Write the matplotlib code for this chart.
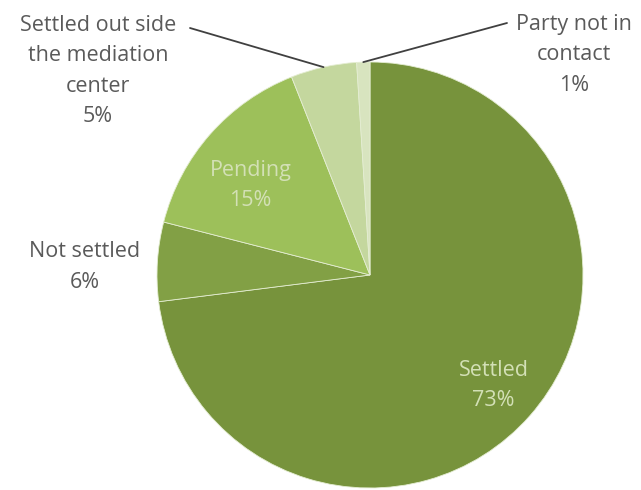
import matplotlib
matplotlib.use("Agg")
import matplotlib.pyplot as plt
import numpy as np

# case outcomes at the mediation center
categories = ["Settled", "Not settled", "Pending",
              "Settled out side\nthe mediation\ncenter", "Party not in\ncontact"]
shares = [73, 6, 15, 5, 1]
colors = ["#77933C", "#82A045", "#9DC05A", "#C4D79E", "#D8E4BF"]

W, H = 641, 490
plt.rcParams["font.family"] = ["Open Sans", "DejaVu Sans"]
FS = 15.5
GREY = "#5A5A5A"

fig = plt.figure(figsize=(W / 100, H / 100), dpi=100)

# pie centre and radius in pixels
cx, cy, rad = 370, 275, 213
ax = fig.add_axes([(cx - rad) / W, (H - cy - rad) / H, 2 * rad / W, 2 * rad / H])
wedges, _ = ax.pie(shares, colors=colors, startangle=90, counterclock=False,
                   wedgeprops=dict(edgecolor="#E4EDD2", linewidth=0.6))
ax.set_xlim(-1, 1)
ax.set_ylim(-1, 1)
ax.set_aspect("equal")
ax.axis("off")


def px(x, y):
    return x / W, 1 - y / H


def edge_pt(w, r=1.0):
    ang = np.deg2rad((w.theta1 + w.theta2) / 2)
    return r * np.cos(ang), r * np.sin(ang)


labels = [f"{c}\n{s}%" for c, s in zip(categories, shares)]

# labels inside the larger slices
ax.text(0.58, -0.52, labels[0], ha="center", va="center", fontsize=FS,
        color="#D3E0B6", linespacing=1.55)
ax.text(-0.56, 0.42, labels[2], ha="center", va="center", fontsize=FS,
        color="#D3E0B6", linespacing=1.55)

# outside labels
fig.text(*px(85, 267), labels[1], ha="center", va="center", fontsize=FS,
         color=GREY, linespacing=1.6)
fig.text(*px(98, 71), labels[3], ha="center", va="center", fontsize=FS,
         color=GREY, linespacing=1.6)
fig.text(*px(574, 55), labels[4], ha="center", va="center", fontsize=FS,
         color=GREY, linespacing=1.6)

# leader lines to the thin slices
for w, (tx, ty) in [(wedges[3], (190, 28)), (wedges[4], (507, 23))]:
    x, y = edge_pt(w)
    ax.annotate("", xy=(x, y), xycoords="data",
                xytext=px(tx, ty), textcoords="figure fraction",
                arrowprops=dict(arrowstyle="-", color="#404040", lw=1.3,
                                shrinkA=0, shrinkB=0))

fig.savefig("out.png", dpi=100, facecolor="white")
